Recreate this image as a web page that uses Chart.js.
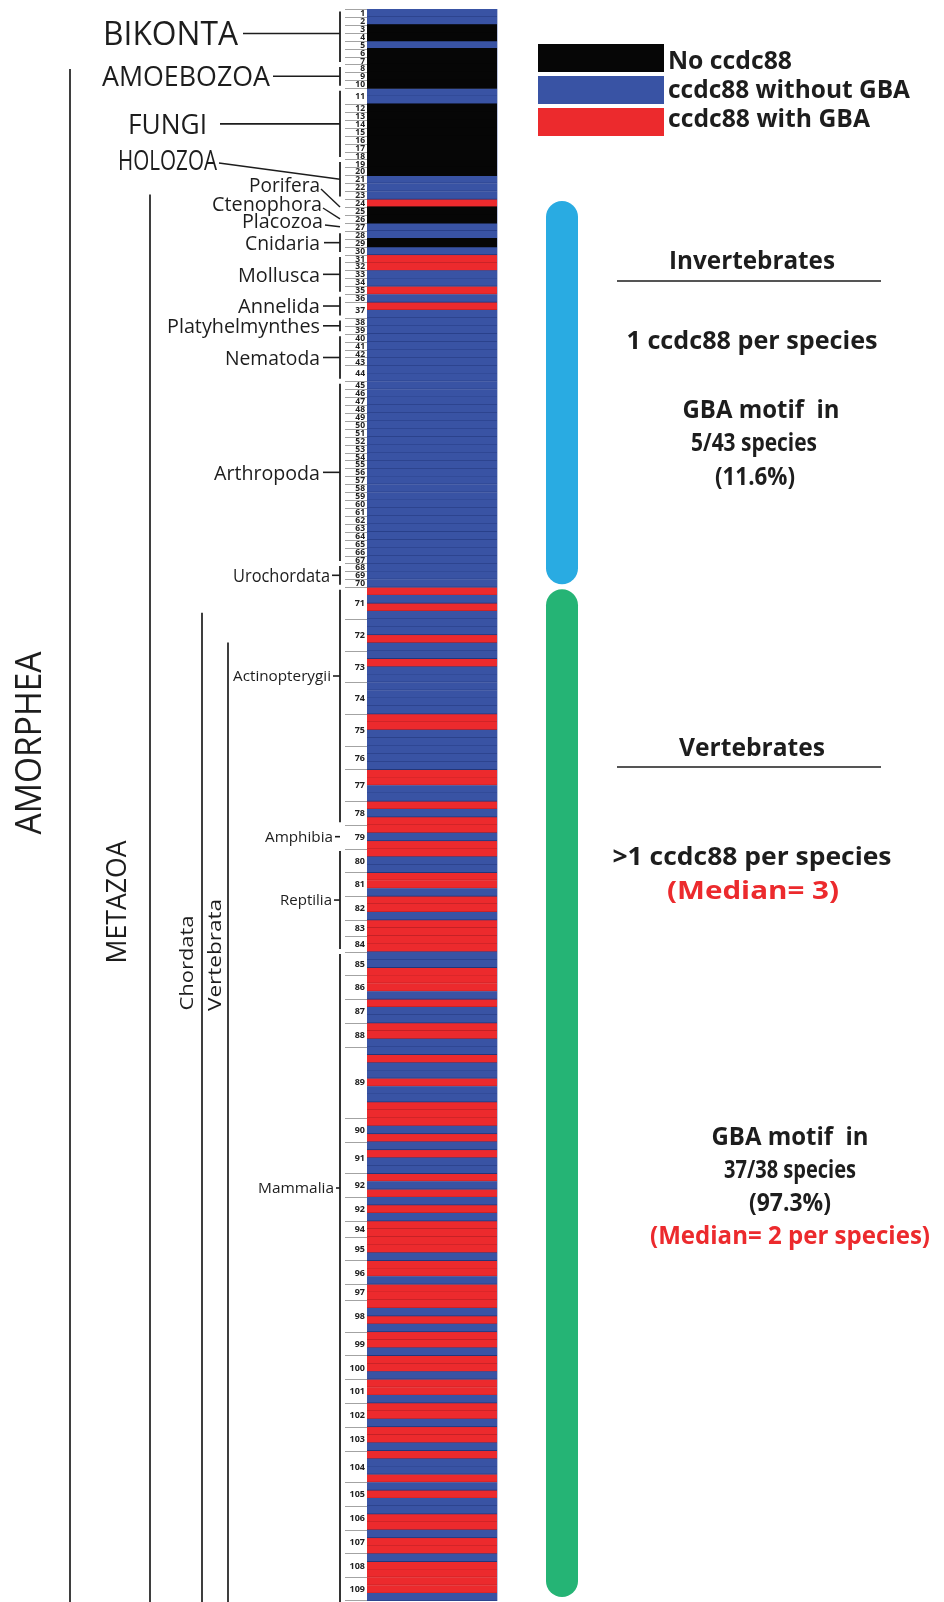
<!DOCTYPE html>
<html>
<head>
<meta charset="utf-8">
<script src="https://cdn.jsdelivr.net/npm/chart.js@4.4.1/dist/chart.umd.min.js"></script>
<style>
html,body{margin:0;padding:0;background:#fff;}
canvas{display:block;}
</style>
</head>
<body>
<canvas id="c" width="944" height="1602"></canvas>
<script>
// ================= DATA =================
// Species numbers as printed (the 93rd species is printed "92" in the original)
const speciesLabels = [
 '1','2','3','4','5','6','7','8','9','10',
 '11','12','13','14','15','16','17','18','19','20',
 '21','22','23','24','25','26','27','28','29','30',
 '31','32','33','34','35','36','37','38','39','40',
 '41','42','43','44','45','46','47','48','49','50',
 '51','52','53','54','55','56','57','58','59','60',
 '61','62','63','64','65','66','67','68','69','70',
 '71','72','73','74','75','76','77','78','79','80',
 '81','82','83','84','85','86','87','88','89','90',
 '91','92','92','94','95','96','97','98','99','100',
 '101','102','103','104','105','106','107','108','109'
];
// One letter per ccdc88 row, top to bottom: K = no ccdc88, B = without GBA, R = with GBA
const speciesCalls = [
 'B','B','K','K','B','K','K','K','K','K',
 'BB','K','K','K','K','K','K','K','K','K',
 'B','B','B','R','K','K','B','B','K','B',
 'R','R','B','B','R','B','RB','B','B','B',
 'B','B','B','BB','B','B','B','B','B','B',
 'B','B','B','B','B','B','B','B','B','B',
 'B','B','B','B','B','B','B','B','B','B',
 'RBRB','BBRB','BRBB','BBBB','RRBB','BBB','RRBB','RBR','RBR','RBB',
 'RRB','RRB','RR','RR','BBR','RRB','RBB','RRB','BRBBRBBRR','RBR',
 'BRBB','RBR','BRB','RR','RRB','RRB','RR','RBRB','RRB','RRB',
 'RRB','RRB','RRB','RBBR','BRB','BRR','BRR','BRR','RRB'
];
const callCodes = ['K','B','R'];
const callNames = ['No ccdc88','ccdc88 without GBA','ccdc88 with GBA'];

// Clades (species ordinals, 1-based)
const cladeNames = ['BIKONTA','AMOEBOZOA','FUNGI','HOLOZOA','Porifera','Ctenophora','Placozoa','Cnidaria',
  'Mollusca','Annelida','Platyhelmynthes','Nematoda','Arthropoda','Urochordata',
  'Actinopterygii','Amphibia','Reptilia','Mammalia'];
const cladeFirst = [1,8,11,19,24,26,27,28,31,36,38,40,45,68,71,79,80,85];
const cladeLast  = [7,10,18,23,25,26,27,30,35,37,39,44,67,70,78,79,84,109];

// Higher lineages (first species covered)
const lineageNames = ['AMORPHEA','METAZOA','Chordata','Vertebrata'];
const lineageFirst = [8,24,72,73];

// Summary texts
const invertTitle = 'Invertebrates';
const invertLines = ['1 ccdc88 per species','GBA motif  in','5/43 species','(11.6%)'];
const vertTitle = 'Vertebrates';
const vertLines = ['>1 ccdc88 per species','(Median= 3)','GBA motif  in','37/38 species','(97.3%)','(Median= 2 per species)'];

// ================= STYLE / LAYOUT =================
const FONT = '"Open Sans", "DejaVu Sans", sans-serif';
const INK = '#1d1d1d';
const RED_TXT = '#EC2A2D';
const FILL = {K:'#060606', B:'#3953A4', R:'#EC2A2D'};
const EDGE = {K:'#060606', B:'#22367A', R:'#A91D22'};

// rows derived from the data
const rowLabels = [], rowCalls = [], firstRow = [];
speciesCalls.forEach((calls, s) => {
  firstRow.push(rowCalls.length);
  for (const c of calls) { rowLabels.push(speciesLabels[s]); rowCalls.push(c); }
});

const datasets = callCodes.map((code, i) => ({
  label: callNames[i],
  data: rowCalls.map(c => (c === code ? 1 : null)),
  backgroundColor: FILL[code],
  borderColor: EDGE[code],
  borderWidth: code === 'K' ? 0 : {top:0, right:0, bottom:1, left:0},
  borderSkipped: false,
  inflateAmount: 0.6,
  barPercentage: 1,
  categoryPercentage: 1
}));

function drawText(ctx, s, x, y, o) {
  ctx.save();
  ctx.font = `${o.weight || 400} ${o.size}px ${FONT}`;
  ctx.fillStyle = o.color || INK;
  ctx.textAlign = 'left';
  ctx.textBaseline = 'alphabetic';
  ctx.translate(x, y);
  if (o.rotate) ctx.rotate(-Math.PI / 2);
  const m = ctx.measureText(s).width;
  const sx = o.width ? o.width / m : 1;
  const w = m * sx;
  const x0 = o.align === 'right' ? -w : (o.align === 'center' ? -w / 2 : 0);
  ctx.translate(x0, o.size * 0.36);
  ctx.scale(sx, 1);
  ctx.fillText(s, 0, 0);
  ctx.restore();
}
function line(ctx, x1, y1, x2, y2, w, col) {
  ctx.save();
  ctx.strokeStyle = col || INK;
  ctx.lineWidth = w || 1.6;
  ctx.beginPath(); ctx.moveTo(x1, y1); ctx.lineTo(x2, y2); ctx.stroke();
  ctx.restore();
}

// label layout per clade: size, width, right edge, label centre (null = middle of range), line start x, kind
const cladeLayout = {
  'BIKONTA':        {size:33, w:135, right:238, cy:33.5, lx:243, kind:'bar'},
  'AMOEBOZOA':      {size:27, w:168, right:270, cy:null, lx:273, kind:'bar'},
  'FUNGI':          {size:28, w:79,  right:207, cy:null, lx:220, kind:'bar'},
  'HOLOZOA':        {size:28, w:99,  right:217, cy:160,  lx:219, ly:163, kind:'slant', bracket:true},
  'Porifera':       {size:20, w:71,  right:320, cy:185,  lx:321, ly:189, kind:'slant'},
  'Ctenophora':     {size:20, w:110, right:322, cy:204,  lx:323, ly:208, kind:'slant'},
  'Placozoa':       {size:20, w:81,  right:323, cy:221,  lx:325, ly:225, kind:'slant'},
  'Cnidaria':       {size:20, w:75,  right:320, cy:null, lx:324, kind:'bar'},
  'Mollusca':       {size:20, w:82,  right:320, cy:null, lx:323, kind:'bar'},
  'Annelida':       {size:20, w:82,  right:320, cy:null, lx:323, kind:'bar'},
  'Platyhelmynthes':{size:20, w:153, right:320, cy:null, lx:323, kind:'bar'},
  'Nematoda':       {size:20, w:95,  right:320, cy:null, lx:323, kind:'bar'},
  'Arthropoda':     {size:20, w:106, right:320, cy:null, lx:323, kind:'bar'},
  'Urochordata':    {size:18, w:97,  right:330, cy:null, lx:332, kind:'bar'},
  'Actinopterygii': {size:15, w:98,  right:331, cy:676,  lx:333, kind:'bar'},
  'Amphibia':       {size:15, w:68,  right:333, cy:null, lx:335, kind:'dash'},
  'Reptilia':       {size:15, w:52,  right:332, cy:null, lx:334, kind:'bar'},
  'Mammalia':       {size:15, w:76,  right:334, cy:1188, lx:336, kind:'bar', toEnd:true}
};
const lineageLayout = [
  {x:70,  dy:4.5,  tx:28,  ty:743, size:37, w:183},
  {x:150, dy:-4.5, tx:116, ty:902, size:28, w:123},
  {x:202, dy:-6,   tx:186, ty:963, size:19, w:95},
  {x:228, dy:-8,   tx:214, ty:955, size:19, w:112}
];
const BRACKET_X = 340;

const annot = {
  id: 'annot',
  beforeDraw(chart) {
    const c = chart.ctx;
    c.save(); c.fillStyle = '#fff'; c.fillRect(0, 0, chart.width, chart.height); c.restore();
  },
  afterDraw(chart) {
    const ctx = chart.ctx, ys = chart.scales.y, ca = chart.chartArea;
    const step = ys.getPixelForValue(1) - ys.getPixelForValue(0);
    const rowTop = i => ys.getPixelForValue(i) - step / 2;
    const spTop = s => rowTop(firstRow[s - 1]);
    const spBot = s => rowTop(firstRow[s - 1] + speciesCalls[s - 1].length);

    // faint right edge of the column
    line(ctx, ca.right + 0.5, ca.top, ca.right + 0.5, ca.bottom, 1, '#b9c3df');

    // species ticks and numbers
    for (let s = 1; s <= speciesCalls.length; s++) {
      const t = Math.round(spTop(s)) + 0.5;
      line(ctx, 345, t, ca.left, t, 1, '#a3a3a3');
      const mid = (spTop(s) + spBot(s)) / 2;
      drawText(ctx, speciesLabels[s - 1], 365, mid, {size: s <= 70 ? 8.5 : 9, weight: 700, align: 'right', color: '#222'});
    }
    const lb = Math.round(spBot(speciesCalls.length)) - 0.5;
    line(ctx, 345, lb, ca.left, lb, 1, '#a3a3a3');

    // clades
    cladeNames.forEach((name, i) => {
      const L = cladeLayout[name];
      const top = spTop(cladeFirst[i]), bot = spBot(cladeLast[i]);
      const mid = (top + bot) / 2;
      const cy = L.cy == null ? mid : L.cy;
      drawText(ctx, name, L.right, cy, {size: L.size, width: L.w, align: 'right'});
      if (L.kind === 'bar') {
        line(ctx, BRACKET_X, top + 2.5, BRACKET_X, L.toEnd ? chart.height : bot - 2.5, 1.8);
        line(ctx, L.lx, cy, BRACKET_X, cy, 1.6);
      } else if (L.kind === 'dash') {
        line(ctx, L.lx, cy, BRACKET_X, cy, 1.6);
      } else {
        if (L.bracket) line(ctx, BRACKET_X, top + 2.5, BRACKET_X, bot - 2.5, 1.8);
        line(ctx, L.lx, L.ly, BRACKET_X, mid, 1.4);
      }
    });

    // lineages: long vertical lines and rotated names
    lineageNames.forEach((name, i) => {
      const L = lineageLayout[i];
      const top = spTop(lineageFirst[i]) + L.dy;
      line(ctx, L.x, top, L.x, chart.height, 1.7);
      drawText(ctx, name, L.tx, L.ty, {size: L.size, width: L.w, align: 'center', rotate: true});
    });

    // legend (from the datasets)
    const widths = [124, 242, 202];
    chart.data.datasets.forEach((ds, i) => {
      ctx.fillStyle = ds.backgroundColor;
      ctx.fillRect(538, 44 + i * 32, 126, 28);
      drawText(ctx, ds.label, 668, 59.5 + i * 29, {size: 25, weight: 700, width: widths[i]});
    });

    // capsules
    const capsule = (x, y1, y2, col) => {
      ctx.save(); ctx.fillStyle = col; ctx.beginPath();
      ctx.roundRect(x, y1, 32, y2 - y1, 16); ctx.fill(); ctx.restore();
    };
    capsule(546, spTop(24) + 2, spBot(70) - 3, '#29ABE2');
    capsule(546, spTop(71) + 2, ca.bottom - 4, '#25B475');

    // summary texts
    const T = 25;
    drawText(ctx, invertTitle, 752, 260, {size: T, weight: 700, width: 166, align: 'center'});
    line(ctx, 617, 281, 881, 281, 1.6);
    drawText(ctx, invertLines[0], 752, 340, {size: T, weight: 700, width: 251, align: 'center'});
    drawText(ctx, invertLines[1], 761, 409, {size: T, weight: 700, width: 157, align: 'center'});
    drawText(ctx, invertLines[2], 754, 442, {size: T, weight: 700, width: 126, align: 'center'});
    drawText(ctx, invertLines[3], 755, 476, {size: T, weight: 700, width: 80, align: 'center'});

    drawText(ctx, vertTitle, 752, 747, {size: T, weight: 700, width: 146, align: 'center'});
    line(ctx, 617, 767, 881, 767, 1.6);
    drawText(ctx, vertLines[0], 752, 856, {size: T, weight: 700, width: 279, align: 'center'});
    drawText(ctx, vertLines[1], 753, 890, {size: T, weight: 700, width: 172, align: 'center', color: RED_TXT});
    drawText(ctx, vertLines[2], 790, 1136, {size: T, weight: 700, width: 157, align: 'center'});
    drawText(ctx, vertLines[3], 790, 1169, {size: T, weight: 700, width: 132, align: 'center'});
    drawText(ctx, vertLines[4], 790, 1202, {size: T, weight: 700, width: 82, align: 'center'});
    drawText(ctx, vertLines[5], 790, 1235, {size: T, weight: 700, width: 280, align: 'center', color: RED_TXT});
  }
};

new Chart(document.getElementById('c'), {
  type: 'bar',
  data: {labels: rowLabels, datasets: datasets},
  options: {
    indexAxis: 'y',
    responsive: false,
    animation: false,
    devicePixelRatio: 1,
    layout: {padding: {left: 367, right: 447, top: 9, bottom: 1}},
    scales: {
      x: {display: false, min: 0, max: 1, stacked: true},
      y: {display: false, stacked: true, offset: true, grid: {display: false}}
    },
    plugins: {legend: {display: false}, tooltip: {enabled: false}}
  },
  plugins: [annot]
});
</script>
</body>
</html>
